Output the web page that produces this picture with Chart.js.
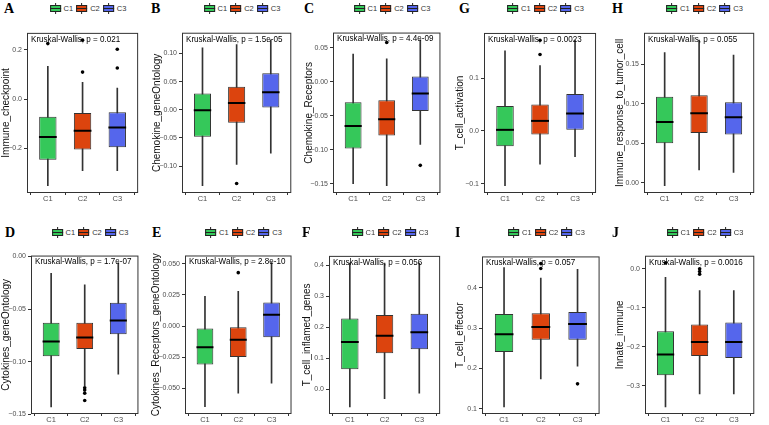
<!DOCTYPE html>
<html lang="en">
<head>
<meta charset="UTF-8">
<title>Immune signature box plots</title>
<script src="https://cdn.jsdelivr.net/npm/chart.js"></script>
<style>
  body { margin: 0; background: #fff; }
  #wrap { position: relative; width: 769px; height: 425px; overflow: hidden; font-family: 'Liberation Sans', Arial, sans-serif; }
  .panel { position: absolute; }
  .letter { position: absolute; font-family: 'Liberation Serif', 'Times New Roman', serif; font-weight: bold; font-size: 14px; line-height: 14px; color: #000; }
  .legend { position: absolute; display: flex; align-items: center; height: 11px; font-size: 7.5px; color: #333; white-space: nowrap; transform: translateX(-50%); }
  .item { display: flex; align-items: center; margin: 0 1.5px; }
  .key { position: relative; width: 11px; height: 11px; margin-right: 3px; }
  .key .stub { position: absolute; left: 5px; top: 0; width: 1px; height: 11px; background: #222; }
  .key .box { position: absolute; left: 0; top: 2px; width: 11px; height: 7px; border: 1px solid #222; box-sizing: border-box; }
  .key .mid { position: absolute; left: 0; top: 5px; width: 11px; height: 1px; background: #222; }
</style>
</head>
<body>
<div id="wrap"></div>

<script>
// ---- data ----
const groups = ['C1', 'C2', 'C3'];
const groupColors = ['#35C85A', '#DC440E', '#5566EC'];

// panel order: A B C G H (top row), D E F I J (bottom row)
const panelLetters = ['A', 'B', 'C', 'G', 'H', 'D', 'E', 'F', 'I', 'J'];
const yTitles = ['Immune_checkpoint', 'Chemokine_geneOntology', 'Chemokine_Receptors', 'T_cell_activation',
    'Immune_response_to_tumor_cell', 'Cytokines_geneOntology', 'Cytokines_Receptors_geneOntology',
    'T_cell_inflamed_genes', 'T_cell_effector', 'Innate_immune'];
const pValues = ['0.021', '1.5e-05', '4.4e-09', '0.0023', '0.055', '1.7e-07', '2.8e-10', '0.056', '0.057', '0.0016'];

const whiskerLow = [
    [-0.352, -0.291, -0.291],
    [-0.135, -0.097, -0.077],
    [-0.150, -0.153, -0.092],
    [-0.104, -0.063, -0.049],
    [-0.004, 0.016, 0.013],
    [-0.143, -0.123, -0.112],
    [-0.065, -0.054, -0.046],
    [-0.056, -0.030, -0.012],
    [0.105, 0.174, 0.206],
    [-0.354, -0.321, -0.321]
];
const lowerQuartile = [
    [-0.246, -0.205, -0.196],
    [-0.048, -0.023, 0.004],
    [-0.098, -0.079, -0.043],
    [-0.029, -0.007, 0.002],
    [0.050, 0.063, 0.061],
    [-0.095, -0.088, -0.074],
    [-0.031, -0.025, -0.009],
    [0.065, 0.117, 0.130],
    [0.241, 0.271, 0.271],
    [-0.273, -0.224, -0.229]
];
const medians = [
    [-0.154, -0.128, -0.115],
    [-0.001, 0.012, 0.031],
    [-0.065, -0.055, -0.017],
    [0.002, 0.019, 0.033],
    [0.077, 0.088, 0.083],
    [-0.081, -0.077, -0.061],
    [-0.017, -0.011, 0.009],
    [0.153, 0.173, 0.185],
    [0.285, 0.303, 0.310],
    [-0.220, -0.188, -0.188]
];
const upperQuartile = [
    [-0.072, -0.056, -0.053],
    [0.029, 0.041, 0.065],
    [-0.030, -0.027, 0.008],
    [0.047, 0.050, 0.070],
    [0.109, 0.111, 0.102],
    [-0.063, -0.063, -0.044],
    [-0.002, -0.001, 0.019],
    [0.229, 0.240, 0.244],
    [0.335, 0.337, 0.340],
    [-0.160, -0.143, -0.138]
];
const whiskerHigh = [
    [0.134, 0.068, 0.045],
    [0.110, 0.116, 0.124],
    [0.041, 0.034, 0.062],
    [0.152, 0.124, 0.172],
    [0.165, 0.181, 0.162],
    [-0.016, -0.027, -0.006],
    [0.024, 0.028, 0.051],
    [0.408, 0.408, 0.408],
    [0.450, 0.424, 0.446],
    [-0.022, -0.056, -0.056]
];
const outliers = [
    [[0.226], [0.240, 0.110], [0.203, 0.127]],
    [[], [-0.131], []],
    [[], [0.058], [-0.123]],
    [[], [0.172, 0.145], []],
    [[], [], []],
    [[], [-0.125, -0.127, -0.130, -0.137], []],
    [[], [0.043], []],
    [[], [], []],
    [[], [0.460, 0.448], [0.162]],
    [[0.015], [0.000, -0.007, -0.014], []]
];
const yTicks = [
    [-0.2, 0, 0.2],
    [-0.10, -0.05, 0, 0.05, 0.10],
    [-0.15, -0.10, -0.05, 0, 0.05],
    [-0.1, 0, 0.1],
    [0, 0.05, 0.10, 0.15],
    [-0.15, -0.10, -0.05, 0],
    [-0.050, -0.025, 0, 0.025, 0.050],
    [0, 0.1, 0.2, 0.3, 0.4],
    [0.1, 0.2, 0.3, 0.4],
    [-0.3, -0.2, -0.1, 0]
];
const tickDecimals = [1, 2, 2, 1, 2, 2, 3, 1, 1, 1];

// ---- layout (pixels) ----
const frameX = [[27, 147], [182, 300], [333, 449], [484, 605], [644, 763],
                [31, 147], [185, 300], [329, 449], [482, 609], [645, 763]];
const rowY = [[28, 193], [251, 414]];
const titleX = [6, 157, 309, 460, 620, 6, 156, 307, 460, 620];
const letterX = [4, 151, 304, 459, 612, 5, 152, 302, 455, 612];
const letterY = [2, 226];
const legendY = [3, 227];

const framePlugin = {
    id: 'frame',
    afterDatasetsDraw(chart, args, opts) {
        const a = chart.chartArea, ctx = chart.ctx;
        ctx.save();
        ctx.strokeStyle = '#333';
        ctx.lineWidth = 1;
        ctx.strokeRect(a.left + 0.5, a.top + 0.5, a.right - a.left - 1, a.bottom - a.top - 1);
        ctx.fillStyle = '#000';
        ctx.font = '9.5px "Liberation Sans", Arial, sans-serif';
        ctx.textBaseline = 'top';
        ctx.translate(a.left + 4, a.top + 1.5);
        ctx.scale(0.85, 1);
        ctx.fillText(opts.label, 0, 0);
        ctx.restore();
    }
};

const wrap = document.getElementById('wrap');

function fmtTick(v, d) {
    return v.toFixed(d).replace('-', '\u2212');
}

panelLetters.forEach(function (letter, i) {
    const row = i < 5 ? 0 : 1;
    const [fl, fr] = frameX[i];
    const [ft, fb] = rowY[row];
    const left = titleX[i] - 6;
    const top = ft - 6;
    const w = fr + 2 - left;
    const h = fb + 12 - top;
    const yAxisW = fl - left;
    const unit = (fr - fl) / 3.2;

    // y range like ggplot: data span plus 5% each side
    const all = [].concat(whiskerLow[i], whiskerHigh[i], ...outliers[i]);
    const lo = Math.min(...all), hi = Math.max(...all);
    const pad = (hi - lo) * 0.05;

    const div = document.createElement('div');
    div.className = 'panel';
    div.style.left = left + 'px';
    div.style.top = top + 'px';
    const canvas = document.createElement('canvas');
    canvas.width = w;
    canvas.height = h;
    div.appendChild(canvas);
    wrap.appendChild(div);

    const lt = document.createElement('div');
    lt.className = 'letter';
    lt.textContent = letter;
    lt.style.left = letterX[i] + 'px';
    lt.style.top = letterY[row] + 'px';
    wrap.appendChild(lt);

    const lg = document.createElement('div');
    lg.className = 'legend';
    lg.style.left = ((fl + fr) / 2 + 1) + 'px';
    lg.style.top = legendY[row] + 'px';
    groups.forEach(function (g, j) {
        const it = document.createElement('div');
        it.className = 'item';
        it.innerHTML = '<div class="key"><div class="stub"></div><div class="box" style="background:' +
            groupColors[j] + '"></div><div class="mid"></div></div><span>' + g + '</span>';
        lg.appendChild(it);
    });
    wrap.appendChild(lg);

    const xs = [1, 2, 3];
    new Chart(canvas, {
        type: 'bar',
        data: {
            datasets: [
                {
                    type: 'bar', label: 'whisker',
                    data: xs.map((x, j) => ({ x: x, y: [whiskerLow[i][j], whiskerHigh[i][j]] })),
                    backgroundColor: '#333', barThickness: 1, grouped: false, order: 3
                },
                {
                    type: 'bar', label: 'box',
                    data: xs.map((x, j) => ({ x: x, y: [lowerQuartile[i][j], upperQuartile[i][j]] })),
                    backgroundColor: groupColors, borderColor: '#333', borderWidth: 1, borderSkipped: false,
                    grouped: false, categoryPercentage: 1, barPercentage: 0.5, order: 2
                },
                {
                    type: 'line', label: 'median',
                    data: xs.map((x, j) => ({ x: x, y: medians[i][j] })),
                    showLine: false, pointStyle: 'line', pointRadius: unit * 0.25 - 0.5,
                    pointBorderWidth: 2, pointBorderColor: '#000', order: 1
                },
                {
                    type: 'line', label: 'outlier',
                    data: outliers[i].flatMap((vals, j) => vals.map(v => ({ x: j + 1, y: v }))),
                    showLine: false, pointRadius: 1.8, pointBackgroundColor: '#000',
                    pointBorderWidth: 0, order: 0
                }
            ]
        },
        options: {
            responsive: false,
            animation: false,
            events: [],
            layout: { padding: { top: 6, right: 2, left: 0, bottom: 0 } },
            plugins: {
                legend: { display: false },
                tooltip: { enabled: false },
                frame: { label: 'Kruskal-Wallis, p = ' + pValues[i] }
            },
            scales: {
                x: {
                    type: 'linear', min: 0.4, max: 3.6, offset: false,
                    afterBuildTicks: s => { s.ticks = xs.map(v => ({ value: v })); },
                    afterFit: s => { s.height = 12; },
                    grid: { drawOnChartArea: false, drawTicks: true, tickLength: 2, color: '#333' },
                    border: { display: false },
                    ticks: {
                        autoSkip: false, maxRotation: 0, padding: -1, color: '#4d4d4d',
                        font: { size: 7.5, family: 'Liberation Sans' },
                        callback: v => groups[v - 1]
                    }
                },
                y: {
                    type: 'linear', min: lo - pad, max: hi + pad,
                    afterBuildTicks: s => { s.ticks = yTicks[i].map(v => ({ value: v })); },
                    afterFit: s => { s.width = yAxisW; },
                    grid: { drawOnChartArea: false, drawTicks: true, tickLength: 3, color: '#333' },
                    border: { display: false },
                    title: {
                        display: true, text: yTitles[i], color: '#111', padding: 0,
                        font: { size: 10, family: 'Liberation Sans', lineHeight: 1.2 }
                    },
                    ticks: {
                        autoSkip: false, padding: 2, color: '#4d4d4d',
                        font: { size: 7, family: 'Liberation Sans' },
                        callback: v => fmtTick(v, tickDecimals[i])
                    }
                }
            }
        },
        plugins: [framePlugin]
    });
});
</script>
</body>
</html>
